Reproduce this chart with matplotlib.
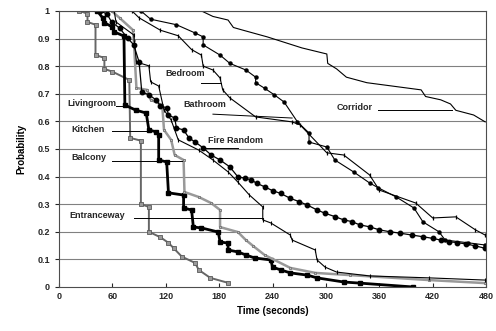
import matplotlib
matplotlib.use("Agg")
import matplotlib.pyplot as plt

plt.rcParams['font.family'] = ['Liberation Sans', 'DejaVu Sans']

# curves: time (s), probability
livingroom_t = [23, 32, 32, 41, 41, 51, 51, 60, 79, 80, 92, 92, 101, 101, 114, 123, 129, 138, 153, 157, 170, 190]
livingroom_p = [1.0, 0.99, 0.96, 0.95, 0.84, 0.83, 0.79, 0.78, 0.75, 0.54, 0.53, 0.30, 0.29, 0.20, 0.18, 0.16, 0.14, 0.11, 0.087, 0.062, 0.033, 0.015]

kitchen_t = [43, 49, 51, 60, 62, 73, 74, 86, 98, 101, 109, 112, 112, 121, 123, 140, 140, 149, 151, 160, 179, 181, 190, 190, 201, 210, 220, 238, 240, 249, 260, 279, 290, 320, 338, 398]
kitchen_p = [1.0, 0.975, 0.957, 0.942, 0.924, 0.909, 0.659, 0.641, 0.630, 0.569, 0.562, 0.551, 0.460, 0.453, 0.341, 0.333, 0.286, 0.279, 0.217, 0.214, 0.199, 0.163, 0.159, 0.134, 0.127, 0.116, 0.105, 0.098, 0.072, 0.062, 0.051, 0.043, 0.033, 0.018, 0.014, 0.0]

balcony_t = [59, 68, 83, 84, 87, 99, 103, 116, 118, 126, 130, 140, 141, 157, 171, 181, 181, 201, 210, 218, 231, 260, 288, 327, 416, 479]
balcony_p = [1.0, 0.975, 0.931, 0.895, 0.721, 0.714, 0.678, 0.659, 0.569, 0.533, 0.478, 0.460, 0.344, 0.326, 0.304, 0.279, 0.217, 0.199, 0.170, 0.149, 0.116, 0.069, 0.051, 0.043, 0.025, 0.014]

entrance_t = [62, 64, 84, 87, 101, 103, 112, 118, 126, 134, 157, 173, 190, 201, 214, 229, 229, 238, 260, 262, 288, 290, 299, 312, 349, 416, 479]
entrance_p = [1.0, 0.96, 0.913, 0.815, 0.801, 0.743, 0.728, 0.641, 0.605, 0.533, 0.496, 0.460, 0.417, 0.380, 0.333, 0.290, 0.243, 0.232, 0.188, 0.170, 0.134, 0.098, 0.072, 0.054, 0.040, 0.033, 0.025]

fire_t = [46, 54, 59, 68, 77, 84, 90, 93, 101, 109, 114, 121, 123, 130, 132, 140, 146, 153, 162, 171, 181, 192,
          201, 209, 216, 222, 231, 240, 249, 260, 270, 279, 290, 299, 310, 320, 329, 338, 349, 360, 372, 383, 397,
          409, 420, 429, 438, 447, 457, 468, 479]
fire_p = [1.0, 0.989, 0.960, 0.938, 0.902, 0.877, 0.815, 0.707, 0.696, 0.678, 0.656, 0.649, 0.623, 0.612, 0.576, 0.569, 0.540, 0.525, 0.504, 0.478, 0.46, 0.435,
          0.399, 0.394, 0.388, 0.376, 0.363, 0.349, 0.339, 0.321, 0.309, 0.297, 0.279, 0.267, 0.255, 0.243, 0.237, 0.225, 0.218, 0.207, 0.200, 0.195, 0.188,
          0.182, 0.176, 0.170, 0.164, 0.161, 0.156, 0.149, 0.140]

bedroom_t = [82, 90, 114, 134, 149, 160, 162, 173, 181, 184, 192, 221, 262, 271, 301, 320, 349, 360, 401, 420, 446, 468, 479]
bedroom_p = [1.0, 0.975, 0.93, 0.91, 0.86, 0.84, 0.80, 0.786, 0.757, 0.714, 0.685, 0.616, 0.598, 0.587, 0.486, 0.478, 0.406, 0.351, 0.304, 0.25, 0.254, 0.207, 0.188]

bathroom_t = [92, 103, 132, 153, 162, 162, 181, 192, 210, 221, 221, 231, 242, 253, 268, 281, 281, 301, 310, 331, 349, 359, 379, 399, 409, 427, 434, 460, 479]
bathroom_p = [1.0, 0.97, 0.95, 0.92, 0.906, 0.877, 0.84, 0.81, 0.786, 0.76, 0.74, 0.72, 0.696, 0.67, 0.598, 0.558, 0.525, 0.507, 0.46, 0.417, 0.377, 0.359, 0.326, 0.286, 0.236, 0.20, 0.17, 0.16, 0.152]

corridor_t = [160, 173, 190, 196, 207, 234, 273, 301, 302, 312, 323, 346, 407, 412, 429, 440, 446, 466, 479]
corridor_p = [1.0, 0.98, 0.967, 0.94, 0.93, 0.906, 0.866, 0.844, 0.81, 0.79, 0.76, 0.74, 0.714, 0.69, 0.678, 0.663, 0.64, 0.623, 0.598]

# label text, text position, pointer start and end
labels = ['Livingroom', 'Kitchen', 'Balcony', 'Entranceway', 'Bedroom', 'Bathroom', 'Fire Random', 'Corridor']
label_xy = [(9, 0.665), (14, 0.57), (14, 0.47), (12, 0.26), (120, 0.775), (140, 0.66), (168, 0.53), (312, 0.65)]
pointer_from = [(64, 0.656), (59, 0.565), (59, 0.456), (84, 0.25), (160, 0.74), (173, 0.626), (201, 0.504), (359, 0.64)]
pointer_to = [(77, 0.656), (109, 0.565), (138, 0.456), (229, 0.25), (182, 0.74), (262, 0.612), (162, 0.504), (442, 0.64)]

fig = plt.figure(figsize=(4.96, 3.31), dpi=100)
ax = fig.add_axes([0.119, 0.133, 0.861, 0.834])

for yv in [0.1 * i for i in range(1, 11)]:
    ax.axhline(yv, color='0.5', lw=0.8, zorder=0)

gray = '0.6'
ax.plot(livingroom_t, livingroom_p, color='0.4', lw=1.4, marker='s', ms=2.4, mfc=gray, mec='0.35', mew=0.6)
ax.plot(kitchen_t, kitchen_p, color='black', lw=2.0, marker='s', ms=2.6)
ax.plot(balcony_t, balcony_p, color=gray, lw=1.8, marker='s', ms=2.0, mfc='0.75', mec='0.45', mew=0.6)
ax.plot(entrance_t, entrance_p, color='black', lw=0.8, marker='|', ms=3, mew=0.8)
ax.plot(fire_t, fire_p, color='black', lw=0.9, marker='o', ms=3.2)
ax.plot(bedroom_t, bedroom_p, color='black', lw=0.8, marker='|', ms=3.5, mew=0.9)
ax.plot(bathroom_t, bathroom_p, color='black', lw=0.8, marker='o', ms=2.2)
ax.plot(corridor_t, corridor_p, color='black', lw=0.8)

for lab, txy, pf, pt in zip(labels, label_xy, pointer_from, pointer_to):
    ax.text(txy[0], txy[1], lab, fontsize=6.5, fontweight='bold', va='center', ha='left', color='0.15')
    ax.plot([pf[0], pt[0]], [pf[1], pt[1]], color='black', lw=0.7)

ax.set_xlim(0, 480)
ax.set_ylim(0, 1)
ax.set_xticks(range(0, 481, 60))
ax.set_yticks([0.1 * i for i in range(11)])
ax.set_yticklabels(['0', '0.1', '0.2', '0.3', '0.4', '0.5', '0.6', '0.7', '0.8', '0.9', '1'])
ax.tick_params(labelsize=6.5, length=3, width=0.8, colors='0.15')
ax.tick_params(axis='x', direction='in')
for lbl in ax.get_xticklabels() + ax.get_yticklabels():
    lbl.set_fontweight('bold')
for sp in ax.spines.values():
    sp.set_linewidth(0.8)
    sp.set_color('0.3')
ax.set_xlabel('Time (seconds)', fontsize=7, fontweight='bold', labelpad=4)
ax.set_ylabel('Probability', fontsize=7, fontweight='bold', labelpad=8)

fig.savefig('out.png', dpi=100)
